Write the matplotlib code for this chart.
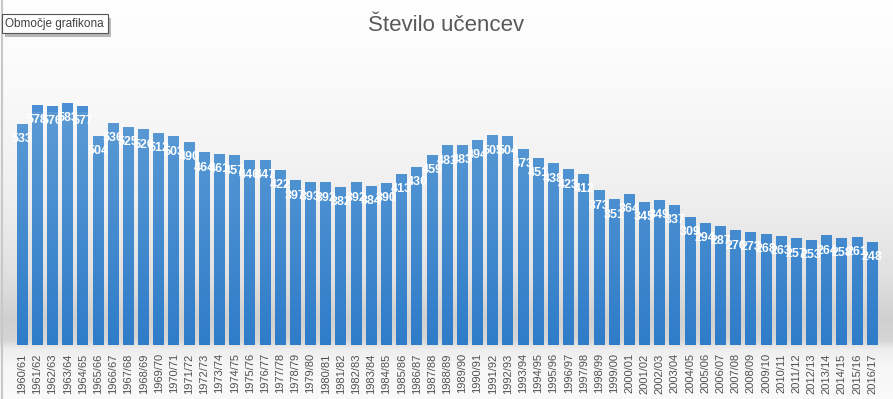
import numpy as np
import matplotlib.pyplot as plt
import matplotlib.patheffects as pe
from matplotlib.colors import LinearSegmentedColormap

# ===========================
# Data
# ===========================
years = [
    "1960/61", "1961/62", "1962/63", "1963/64", "1964/65", "1965/66", "1966/67",
    "1967/68", "1968/69", "1969/70", "1970/71", "1971/72", "1972/73", "1973/74",
    "1974/75", "1975/76", "1976/77", "1977/78", "1978/79", "1979/80", "1980/81",
    "1981/82", "1982/83", "1983/84", "1984/85", "1985/86", "1986/87", "1987/88",
    "1988/89", "1989/90", "1990/91", "1991/92", "1992/93", "1993/94", "1994/95",
    "1995/96", "1996/97", "1997/98", "1998/99", "1999/00", "2000/01", "2001/02",
    "2002/03", "2003/04", "2004/05", "2005/06", "2006/07", "2007/08", "2008/09",
    "2009/10", "2010/11", "2011/12", "2012/13", "2013/14", "2014/15", "2015/16",
    "2016/17",
]
students = [
    533, 578, 576, 583, 577, 504, 536, 525, 520, 512, 503, 490, 464, 461,
    457, 446, 447, 422, 397, 393, 392, 382, 392, 384, 390, 413, 430, 459,
    481, 483, 494, 505, 504, 473, 451, 438, 423, 412, 373, 351, 364, 345,
    349, 337, 309, 294, 287, 276, 273, 268, 263, 257, 253, 264, 258, 261,
    248,
]

title = "Število učencev"
tooltip = "Območje grafikona"

# ===========================
# Figure and background
# ===========================
fig = plt.figure(figsize=(8.93, 3.99), dpi=100)

bg_ax = fig.add_axes([0, 0, 1, 1], zorder=-10)
stops = [
    (0.00, 1.00), (0.25, 0.975), (0.50, 0.935), (0.68, 0.885),
    (0.74, 0.855), (0.80, 0.815), (0.855, 0.84), (0.875, 0.93),
    (0.92, 0.965), (1.00, 0.98),
]
pos = np.linspace(0, 1, 400)
levels = np.interp(pos, [s[0] for s in stops], [s[1] for s in stops])
bg = np.dstack([levels, levels, levels]).reshape(400, 1, 3)
bg_ax.imshow(bg, aspect="auto", extent=(0, 1, 0, 1), origin="upper")
bg_ax.plot([0.002, 0.002], [0, 1], color="#c8c8c8", linewidth=1.5)
bg_ax.set_xlim(0, 1)
bg_ax.set_ylim(0, 1)
bg_ax.axis("off")

# ===========================
# Bars
# ===========================
ax = fig.add_axes([0.0163, 0.1353, 0.969, 0.728])
ax.set_facecolor("none")

x = np.arange(len(years))
bars = ax.bar(x, students, width=0.72, color="#4a8fd3", edgecolor="none", zorder=2)

ymax = 700
bar_cmap = LinearSegmentedColormap.from_list("bar", ["#2f7cc9", "#5b9bd5"])
grad = np.linspace(0, 1, 256).reshape(-1, 1)
for rect in bars:
    x0 = rect.get_x()
    w = rect.get_width()
    img = ax.imshow(
        grad,
        cmap=bar_cmap,
        aspect="auto",
        origin="lower",
        extent=(x0, x0 + w, 0, ymax * 0.8),
        vmin=0,
        vmax=1,
        zorder=3,
    )
    img.set_clip_path(rect)

for xi, v in zip(x, students):
    ax.annotate(
        f"{v}",
        xy=(xi, v),
        xytext=(0, -11),
        textcoords="offset points",
        ha="center",
        va="center",
        color="white",
        fontsize=9,
        fontweight="bold",
        family="Liberation Sans",
        zorder=5,
    )

ax.set_xlim(-0.5, len(years) - 0.5)
ax.set_ylim(0, ymax)
ax.set_xticks(x)
ax.set_xticklabels(years, rotation=90, fontsize=8, color="#505050", family="Liberation Sans")
ax.tick_params(axis="x", length=0, pad=6)
ax.set_yticks([])
for s in ax.spines.values():
    s.set_visible(False)

fig.text(
    0.5, 0.935, title,
    ha="center", va="center",
    fontsize=16, color="#595959", family="Liberation Sans",
)

# tooltip box with a small drop shadow
tip = fig.text(
    0.006, 0.94, tooltip,
    ha="left", va="center",
    fontsize=8.5, color="#404040", family="Liberation Sans",
    bbox=dict(boxstyle="square,pad=0.3", facecolor="white", edgecolor="#555555", linewidth=0.8),
)
tip.get_bbox_patch().set_path_effects([
    pe.SimplePatchShadow(offset=(2.5, -2.5), shadow_rgbFace="#8a8a8a", alpha=0.6),
    pe.Normal(),
])

fig.savefig("out.png", dpi=100)
